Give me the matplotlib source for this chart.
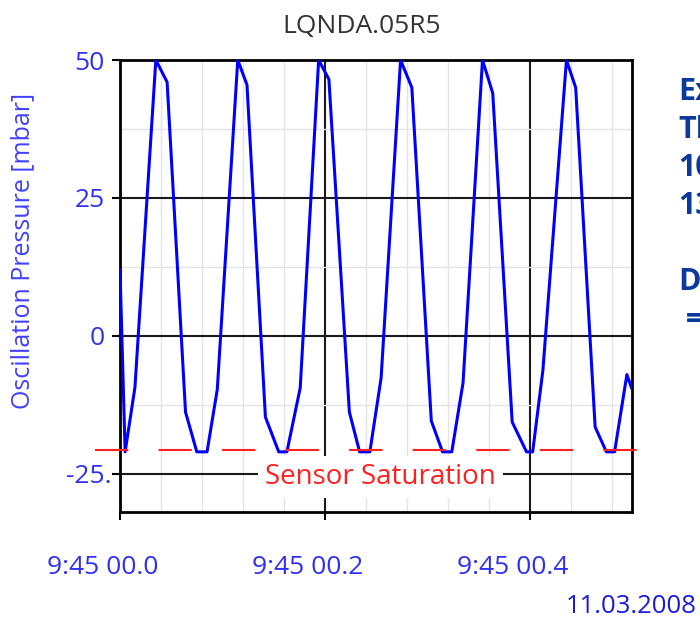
import matplotlib

matplotlib.use("Agg")
import matplotlib.pyplot as plt
from matplotlib.transforms import ScaledTranslation

plt.rcParams["font.family"] = ["Open Sans", "DejaVu Sans"]

# pressure trace (time in s after 9:45:00.0, mbar)
time_s = [0.000, 0.005, 0.0146, 0.035, 0.046, 0.064, 0.075, 0.085, 0.095,
          0.115, 0.124, 0.142, 0.155, 0.163, 0.176, 0.194, 0.204, 0.224,
          0.234, 0.244, 0.255, 0.274, 0.285, 0.304, 0.315, 0.324, 0.335,
          0.354, 0.364, 0.383, 0.397, 0.403, 0.413, 0.436, 0.445, 0.464,
          0.475, 0.483, 0.495, 0.4995]
pressure = [12.0, -21.0, -9.3, 50.0, 46.0, -13.8, -21.0, -21.0, -9.7,
            50.0, 45.5, -14.7, -21.0, -21.0, -9.4, 50.0, 46.5, -13.8,
            -21.0, -21.0, -7.6, 50.0, 45.0, -15.4, -21.0, -21.0, -8.5,
            50.0, 44.0, -15.6, -21.0, -21.0, -6.2, 50.0, 45.0, -16.5,
            -21.0, -21.0, -7.0, -9.4]

saturation_level = -20.7
saturation_span = [-0.0244, 0.507]

x_ticks = [0.0, 0.2, 0.4]
x_labels = ["9:45 00.0", "9:45 00.2", "9:45 00.4"]
y_ticks = [-25, 0, 25, 50]
y_labels = ["-25.", "0", "25", "50"]

side_lines = ["Ex", "Th", "10", "13", "", "D", " ="]

BLUE = "#0000ff"
LABEL_BLUE = "#3030f2"
NAVY = "#0b3a9c"
RED = "#ff2020"

fig = plt.figure(figsize=(7.0, 6.18), dpi=100)
ax = fig.add_axes([120 / 700, 106 / 618, 512 / 700, 452 / 618])

ax.set_xlim(0, 0.5)
ax.set_ylim(-31.9, 50)

ax.set_xticks(x_ticks)
ax.set_xticklabels(x_labels)
ax.set_xticks([i * 0.04 for i in range(1, 13)], minor=True)
ax.set_yticks(y_ticks)
ax.set_yticklabels(y_labels)
ax.set_yticks([-12.5, 12.5, 37.5], minor=True)

ax.set_axisbelow(True)
ax.grid(which="major", color="#1a1a1a", linewidth=1.5)
ax.grid(which="minor", color="#e4e4e4", linewidth=1.0)

ax.tick_params(which="major", length=6, width=1.5, color="black",
               labelsize=19, labelcolor=LABEL_BLUE)
ax.tick_params(axis="x", which="major", pad=25)
ax.tick_params(axis="y", which="major", pad=5)
ax.tick_params(which="minor", length=0)
for spine in ax.spines.values():
    spine.set_linewidth(2.0)
    spine.set_color("black")

# the time labels sit a bit left of their ticks, "-25." a bit right
shift_left = ScaledTranslation(-0.17, 0, fig.dpi_scale_trans)
for lbl in ax.get_xticklabels():
    lbl.set_transform(lbl.get_transform() + shift_left)
first_y = ax.get_yticklabels()[0]
first_y.set_transform(first_y.get_transform() + ScaledTranslation(0.07, 0, fig.dpi_scale_trans))

ax.plot(time_s, pressure, color=BLUE, linewidth=2.2, zorder=5)

sat_line, = ax.plot(saturation_span, [saturation_level, saturation_level],
                    color=RED, linewidth=1.5, clip_on=False, zorder=6)
sat_line.set_dashes((16, 14.5))

ax.text(0.2546, -25.5, "Sensor Saturation", color=RED, fontsize=20,
        ha="center", va="center", zorder=4,
        bbox=dict(boxstyle="square,pad=0.25", facecolor="white", edgecolor="none"))

fig.text(362 / 700, 1 - 33 / 618, "LQNDA.05R5", color="#333333", fontsize=19,
         ha="center", va="baseline")
fig.text(23 / 700, 1 - 251 / 618, "Oscillation Pressure [mbar]", color="#4040ff",
         fontsize=18, rotation=90, ha="center", va="center")
fig.text(697 / 700, 5 / 618, "11.03.2008", color="#1a1ae0", fontsize=18.5,
         ha="right", va="baseline")

# side note is cut off by the right edge, as in the original
for i, line in enumerate(side_lines):
    fig.text(678 / 700, 1 - (100 + 38 * i) / 618, line, color=NAVY,
             fontsize=22, fontweight="bold", ha="left", va="baseline")

fig.savefig("out.png", dpi=100)
